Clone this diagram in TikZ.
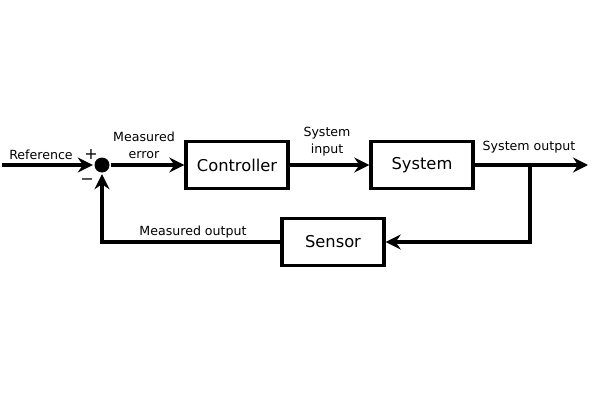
\documentclass[tikz,border=0pt]{standalone}
\usepackage{fontspec}
\setmainfont{DejaVu Sans}
\usetikzlibrary{arrows.meta}

\begin{document}
\begin{tikzpicture}[x=1pt, y=1pt, line width=3.4pt,
    block/.style={draw, line width=3.4pt, minimum width=102pt, minimum height=47pt, font=\fontsize{16.3}{18}\selectfont},
    lbl/.style={font=\fontsize{12.6}{17}\selectfont, align=center},
    sgn/.style={font=\fontsize{16}{18}\selectfont},
    sig/.style={-{Stealth[length=15pt, width=15pt, inset=5pt]}}]

    \useasboundingbox (0,0) rectangle (600,400);

    % Forward path
    \coordinate (ref) at (2,235);
    \node[circle, fill, inner sep=0pt, minimum size=15pt] (sum) at (102,235) {};
    \node[block] (ctrl) at (237,235) {Controller};
    \node[block] (sys) at (422,235) {System};
    \coordinate (branch) at (530,235);
    \coordinate (out) at (588,235);

    % Feedback path
    \node[block] (sens) at (333,158) {Sensor};

    % Connectors
    \draw[sig] (ref) -- (sum);
    \draw[sig] (sum) -- (ctrl);
    \draw[sig] (ctrl) -- (sys);
    \draw[sig] (sys) -- (out);
    \draw[sig] (branch) |- (sens);
    \draw[sig] (sens) -| (sum);

    % Labels
    \node[lbl] (reflbl) at (41,245) {Reference};
    \node[sgn] (plus) at (91,246) {+};
    \node[sgn] (minus) at (87,218) {−};
    \node[lbl] (errlbl) at (144,255) {Measured\\error};
    \node[lbl] (inlbl) at (327,258.5) {System\\input};
    \node[lbl] (outlbl) at (529,253) {System output};
    \node[lbl] (measlbl) at (193,168) {Measured output};

\end{tikzpicture}
\end{document}
